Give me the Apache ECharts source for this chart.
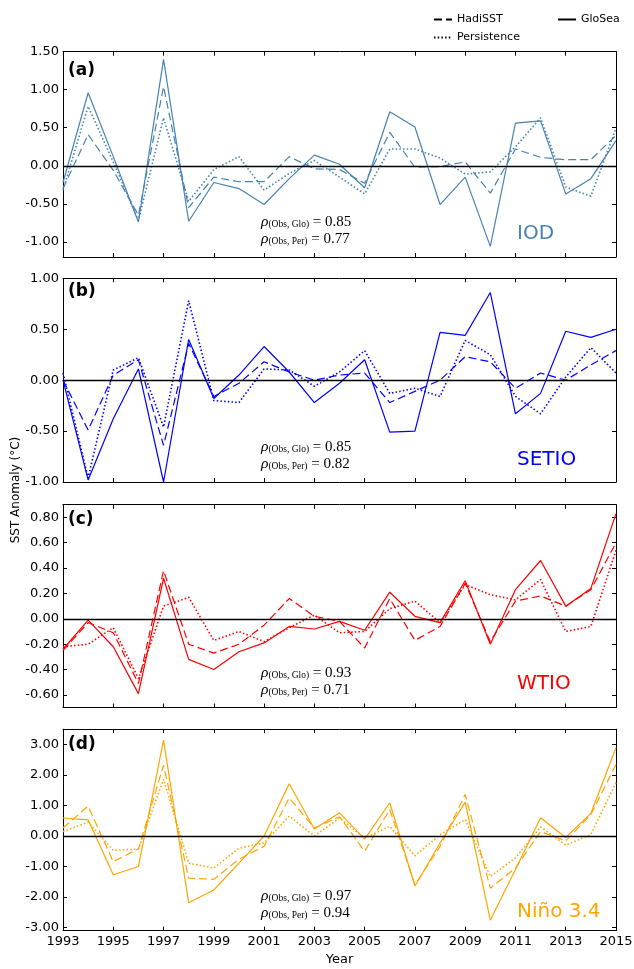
<!DOCTYPE html>
<html><head><meta charset="utf-8">
<script src="https://cdn.jsdelivr.net/npm/echarts@6/dist/echarts.min.js"></script>
<style>html,body{margin:0;padding:0;background:#fff}#c{width:634px;height:969px}</style>
</head><body><div id="c"></div>
<script>
// ---- data ----
const years = ['1993','1994','1995','1996','1997','1998','1999','2000','2001','2002','2003','2004',
               '2005','2006','2007','2008','2009','2010','2011','2012','2013','2014','2015'];

const iodHadi = [-0.30, 0.41, -0.06, -0.65, 1.04, -0.55, -0.15, -0.21, -0.21, 0.12, -0.04, -0.05, -0.23, 0.44, -0.02, -0.01, 0.05, -0.36, 0.22, 0.11, 0.08, 0.08, 0.40];
const iodPers = [-0.32, 0.78, 0.05, -0.72, 0.63, -0.47, -0.05, 0.12, -0.32, -0.10, 0.07, -0.15, -0.37, 0.22, 0.22, 0.10, -0.11, -0.08, 0.25, 0.63, -0.28, -0.40, 0.49];
const iodGlo  = [-0.22, 0.96, 0.12, -0.74, 1.40, -0.73, -0.22, -0.30, -0.51, -0.17, 0.14, 0.02, -0.29, 0.71, 0.51, -0.51, -0.15, -1.06, 0.56, 0.59, -0.37, -0.17, 0.33];

const setioHadi = [0.00, -0.49, 0.05, 0.20, -0.64, 0.36, -0.16, -0.03, 0.18, 0.08, 0.00, 0.05, 0.07, -0.22, -0.11, 0.00, 0.23, 0.18, -0.08, 0.07, 0.00, 0.15, 0.29];
const setioPers = [0.07, -0.96, 0.10, 0.22, -0.46, 0.78, -0.20, -0.22, 0.11, 0.10, -0.06, 0.08, 0.29, -0.13, -0.08, -0.16, 0.39, 0.25, -0.16, -0.33, 0.03, 0.32, 0.07];
const setioGlo  = [0.00, -0.98, -0.38, 0.11, -1.00, 0.40, -0.18, 0.05, 0.33, 0.08, -0.22, -0.03, 0.20, -0.51, -0.50, 0.47, 0.44, 0.86, -0.33, -0.13, 0.48, 0.42, 0.50];

const wtioHadi = [-0.25, -0.03, -0.11, -0.51, 0.38, -0.20, -0.27, -0.20, -0.05, 0.16, 0.02, -0.02, -0.23, 0.16, -0.17, -0.06, 0.28, -0.18, 0.14, 0.18, 0.10, 0.23, 0.60];
const wtioPers = [-0.22, -0.20, -0.07, -0.47, 0.10, 0.17, -0.17, -0.10, -0.18, -0.07, 0.03, -0.11, -0.10, 0.08, 0.14, -0.03, 0.27, 0.19, 0.15, 0.31, -0.10, -0.06, 0.54];
const wtioGlo  = [-0.24, -0.01, -0.22, -0.59, 0.32, -0.32, -0.40, -0.26, -0.19, -0.06, -0.08, -0.02, -0.09, 0.21, 0.02, -0.03, 0.30, -0.20, 0.23, 0.46, 0.10, 0.24, 0.83];

const ninoHadi = [0.26, 0.98, -0.84, -0.42, 2.32, -1.38, -1.42, -0.76, -0.34, 1.25, 0.26, 0.63, -0.50, 0.87, -1.60, -0.34, 1.36, -1.71, -1.05, 0.15, -0.16, 0.70, 2.35];
const ninoPers = [0.15, 0.45, -0.47, -0.43, 1.86, -0.89, -1.05, -0.40, -0.23, 0.65, 0.00, 0.59, -0.07, 0.32, -0.65, 0.04, 0.54, -1.33, -0.72, 0.30, -0.30, 0.05, 1.75];
const ninoGlo  = [0.59, 0.53, -1.27, -1.00, 3.14, -2.19, -1.77, -0.89, 0.00, 1.71, 0.23, 0.76, -0.10, 1.09, -1.64, -0.23, 1.11, -2.76, -1.10, 0.60, -0.05, 0.74, 2.90];

// y tick values for each panel
const iodTicks   = [-1.0, -0.5, 0.0, 0.5, 1.0, 1.5];
const setioTicks = [-1.0, -0.5, 0.0, 0.5, 1.0];
const wtioTicks  = [-0.6, -0.4, -0.2, 0.0, 0.2, 0.4, 0.6, 0.8];
const ninoTicks  = [-3, -2, -1, 0, 1, 2, 3];

const panelNames = ['IOD', 'SETIO', 'WTIO', 'Niño 3.4'];
const panelLetters = ['(a)', '(b)', '(c)', '(d)'];
const rhoGlo = ['0.85', '0.85', '0.93', '0.97'];
const rhoPer = ['0.77', '0.82', '0.71', '0.94'];
const seriesNames = ['HadiSST', 'Persistence', 'GloSea'];
const yLabel = 'SST Anomaly (°C)';
const xLabel = 'Year';

// ---- layout / style ----
const panels = [
  {hadi: iodHadi, pers: iodPers, glo: iodGlo, ticks: iodTicks, color: '#4682b4', min: -1.2, max: 1.5, top: 51.7, bottom: 257, letterDy: 21, nameDy: -23},
  {hadi: setioHadi, pers: setioPers, glo: setioGlo, ticks: setioTicks, color: '#0000ff', min: -1.0, max: 1.0, top: 278.3, bottom: 482, letterDy: 16, nameDy: -22},
  {hadi: wtioHadi, pers: wtioPers, glo: wtioGlo, ticks: wtioTicks, color: '#ff0000', min: -0.7, max: 0.9, top: 504.7, bottom: 707.6, letterDy: 17, nameDy: -24},
  {hadi: ninoHadi, pers: ninoPers, glo: ninoGlo, ticks: ninoTicks, color: '#ffa500', min: -3.1, max: 3.5, top: 729.2, bottom: 930.6, letterDy: 18, nameDy: -19}
];
const W = 634, H = 969, L = 63, R = 616;
const FONT = 'DejaVu Sans';
const dashed = [8, 4], dotted = [1.5, 2.2];

const grids = [], xAxes = [], yAxes = [], series = [], graphics = [];

panels.forEach((p, i) => {
  grids.push({left: L, width: R - L, top: p.top, height: p.bottom - p.top, containLabel: false, outerBoundsMode: 'none'});
  const isLast = i === panels.length - 1;
  const baseX = {
    gridIndex: i, type: 'category', data: years, boundaryGap: false,
    axisLine: {show: true, onZero: false, lineStyle: {color: '#000', width: 1}},
    axisTick: {show: true, inside: true, length: 4, interval: 1, lineStyle: {color: '#000'}},
    splitLine: {show: false}
  };
  xAxes.push(Object.assign({}, baseX, {position: 'bottom',
    axisLabel: {show: isLast, interval: 1, fontFamily: FONT, fontSize: 13, color: '#000', margin: 5}}));
  xAxes.push(Object.assign({}, baseX, {position: 'top', axisLabel: {show: false}}));
  const baseY = {
    gridIndex: i, type: 'value', min: p.min, max: p.max,
    axisLine: {show: true, onZero: false, lineStyle: {color: '#000', width: 1}},
    axisTick: {show: true, inside: true, length: 4, customValues: p.ticks, lineStyle: {color: '#000'}},
    splitLine: {show: false}
  };
  yAxes.push(Object.assign({}, baseY, {position: 'left',
    axisLabel: {show: true, customValues: p.ticks, formatter: v => Number(v).toFixed(2),
      fontFamily: FONT, fontSize: 13, color: '#000', margin: 4}}));
  yAxes.push(Object.assign({}, baseY, {position: 'right', axisLabel: {show: false}}));

  const common = {type: 'line', xAxisIndex: 2 * i, yAxisIndex: 2 * i, symbol: 'none', silent: true, animation: false, color: p.color};
  series.push(Object.assign({}, common, {name: panelNames[i] + ' ' + seriesNames[0], data: p.hadi,
    lineStyle: {color: p.color, width: 1.2, type: dashed}}));
  series.push(Object.assign({}, common, {name: panelNames[i] + ' ' + seriesNames[1], data: p.pers,
    lineStyle: {color: p.color, width: 1.6, type: dotted}}));
  series.push(Object.assign({}, common, {name: panelNames[i] + ' ' + seriesNames[2], data: p.glo,
    lineStyle: {color: p.color, width: 1.2, type: 'solid'},
    markLine: {silent: true, symbol: ['none', 'none'], label: {show: false}, animation: false,
      lineStyle: {color: '#000', width: 1.3, type: 'solid'}, data: [{yAxis: 0}]}}));

  graphics.push({type: 'text', left: 68, top: p.top + p.letterDy - 11,
    style: {text: panelLetters[i], font: 'bold 17px ' + FONT, fill: '#000'}});
  graphics.push({type: 'text', x: 517, y: p.bottom + p.nameDy,
    style: {text: panelNames[i], font: '20px ' + FONT, fill: p.color, verticalAlign: 'middle', align: 'left'}});
  const rich = {
    r: {fontFamily: 'Liberation Serif', fontStyle: 'italic', fontSize: 15.5, lineHeight: 15, fill: '#000'},
    s: {fontFamily: 'Liberation Serif', fontSize: 9.5, lineHeight: 7, verticalAlign: 'bottom', fill: '#000'},
    e: {fontFamily: 'Liberation Serif', fontSize: 15, lineHeight: 15, fill: '#000'}
  };
  graphics.push({type: 'text', x: 261, y: p.bottom - 35,
    style: {text: '{r|ρ}{s|(Obs, Glo)}{e| = ' + rhoGlo[i] + '}', rich: rich, verticalAlign: 'middle', align: 'left'}});
  graphics.push({type: 'text', x: 261, y: p.bottom - 18,
    style: {text: '{r|ρ}{s|(Obs, Per)}{e| = ' + rhoPer[i] + '}', rich: rich, verticalAlign: 'middle', align: 'left'}});
});

// legend dummy series (black)
const legendTypes = [dashed, dotted, 'solid'];
seriesNames.forEach((n, k) => {
  series.push({type: 'line', name: n, xAxisIndex: 0, yAxisIndex: 0, data: [], symbol: 'none', showSymbol: false, color: '#000',
    itemStyle: {opacity: 0}, lineStyle: {color: '#000', width: k === 1 ? 1.6 : 1.2, type: legendTypes[k], opacity: 1}});
});

graphics.push({type: 'text', x: 16, y: 490, rotation: Math.PI / 2,
  style: {text: yLabel, font: '12px ' + FONT, fill: '#000', align: 'center', verticalAlign: 'middle'}});
graphics.push({type: 'text', x: (L + R) / 2, y: 960,
  style: {text: xLabel, font: '13px ' + FONT, fill: '#000', align: 'center', verticalAlign: 'middle'}});

const legendBase = {itemWidth: 18, itemHeight: 12, selectedMode: false,
  itemStyle: {opacity: 0, borderWidth: 0},
  lineStyle: {opacity: 1},
  textStyle: {fontFamily: FONT, fontSize: 11, color: '#000'}};
const legends = [
  Object.assign({}, legendBase, {data: [seriesNames[0]], left: 428, top: 9}),
  Object.assign({}, legendBase, {data: [seriesNames[2]], left: 552, top: 9}),
  Object.assign({}, legendBase, {data: [seriesNames[1]], left: 428, top: 27})
];

const chart = echarts.init(document.getElementById('c'), null, {renderer: 'canvas', width: W, height: H});
chart.setOption({
  animation: false,
  backgroundColor: '#fff',
  grid: grids, xAxis: xAxes, yAxis: yAxes, series: series,
  legend: legends, graphic: graphics
});
</script></body></html>
